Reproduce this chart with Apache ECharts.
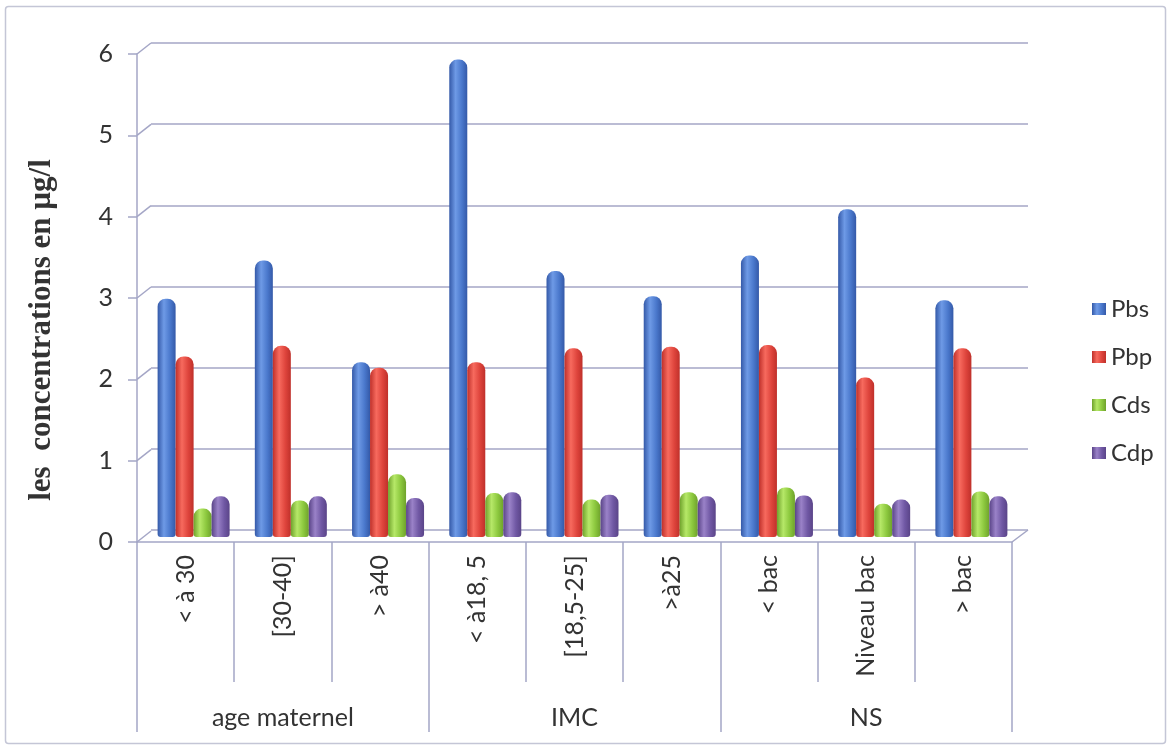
<!DOCTYPE html>
<html>
<head>
<meta charset="utf-8">
<script src="https://cdn.jsdelivr.net/npm/echarts@6/dist/echarts.min.js"></script>
<style>
  html, body { margin: 0; padding: 0; background: #ffffff; }
  #chart { width: 1172px; height: 749px; }
</style>
</head>
<body>
<div id="chart"></div>
<script>
// Sous-groupes (niveau 1) et groupes (niveau 2) de l'axe des catégories
const categories = ['< à 30', '[30-40]', '> à40', '< à18, 5', '[18,5-25]', '>à25', '< bac', 'Niveau bac', '> bac'];
const groups = ['age maternel', 'IMC', 'NS'];
const yTicks = [0, 1, 2, 3, 4, 5, 6];

// Concentrations (µg/l)
const Pbs = [2.93, 3.40, 2.15, 5.87, 3.27, 2.96, 3.46, 4.03, 2.91];
const Pbp = [2.22, 2.35, 2.08, 2.15, 2.32, 2.34, 2.36, 1.96, 2.32];
const Cds = [0.35, 0.45, 0.77, 0.54, 0.46, 0.55, 0.61, 0.41, 0.56];
const Cdp = [0.50, 0.50, 0.48, 0.55, 0.52, 0.50, 0.51, 0.46, 0.50];

const seriesNames = ['Pbs', 'Pbp', 'Cds', 'Cdp'];
const seriesData = [Pbs, Pbp, Cds, Cdp];

// Cylinder shading: dark edges, light band left of centre
const palette = [
  ['#3459a8', '#6e9ae6', '#4a78cc'],
  ['#bf302a', '#f76a5e', '#de443c'],
  ['#6fa22c', '#b6e868', '#8cc83e'],
  ['#5a4488', '#9a82c8', '#7058a4']
];
function cylinder(c) {
  return new echarts.graphic.LinearGradient(0, 0, 1, 0, [
    { offset: 0, color: c[0] },
    { offset: 0.35, color: c[1] },
    { offset: 0.7, color: c[2] },
    { offset: 1, color: c[0] }
  ]);
}

const gridColor = '#a4a6c6';
const textColor = '#333333';
const labelFont = 'Lato, "Open Sans", sans-serif';
const depth = [14, -11];

const chart = echarts.init(document.getElementById('chart'), null, { renderer: 'canvas' });

const barSeries = seriesNames.map((name, i) => ({
  name: name,
  type: 'bar',
  xAxisIndex: 3,
  yAxisIndex: 2,
  data: seriesData[i],
  barWidth: 18,
  barGap: '0%',
  itemStyle: { color: cylinder(palette[i]), borderRadius: [8, 8, 3, 3] },
  emphasis: { disabled: true },
  z: 5
}));

chart.setOption({
  animation: false,
  graphic: [
    {
      type: 'rect',
      shape: { x: 5.5, y: 6.5, width: 1160, height: 737, r: 3 },
      style: { fill: 'none', stroke: '#c4c6d6', lineWidth: 1.5 },
      silent: true
    }
  ],
  legend: {
    orient: 'vertical',
    left: 1087,
    top: 292,
    itemWidth: 14,
    itemHeight: 12,
    itemGap: 24,
    icon: 'rect',
    data: seriesNames,
    textStyle: { fontFamily: labelFont, fontSize: 24, color: textColor, lineHeight: 24 }
  },
  grid: [
    // front plane: visible axes
    { left: 137, right: 160, top: 54, bottom: 207 },
    // back wall: gridlines
    { left: 151, right: 144, top: 43, bottom: 219 },
    // middle plane: columns
    { left: 145, right: 152, top: 49, bottom: 212 }
  ],
  xAxis: [
    {
      type: 'category', gridIndex: 0, data: categories, position: 'bottom',
      axisLine: { show: true, lineStyle: { color: gridColor, width: 1.5 } },
      axisTick: { show: true, interval: 0, length: 140, lineStyle: { color: gridColor, width: 1.5 } },
      axisLabel: { interval: 0, rotate: 90, margin: 13, fontFamily: labelFont, fontSize: 25, color: textColor }
    },
    {
      type: 'category', gridIndex: 0, data: groups, position: 'bottom',
      axisLine: { show: false },
      axisTick: { show: true, interval: 0, length: 190, lineStyle: { color: gridColor, width: 1.5 } },
      axisLabel: { interval: 0, margin: 163, fontFamily: labelFont, fontSize: 25, color: textColor }
    },
    { type: 'category', gridIndex: 1, data: categories, show: false },
    { type: 'category', gridIndex: 2, data: categories, show: false }
  ],
  yAxis: [
    {
      type: 'value', gridIndex: 0, min: 0, max: 6, interval: 1,
      axisLine: { show: true, lineStyle: { color: gridColor, width: 1.5 } },
      axisTick: { show: true, length: 9, lineStyle: { color: gridColor, width: 1.5 } },
      splitLine: { show: false },
      axisLabel: { margin: 24, fontFamily: labelFont, fontSize: 25, color: textColor },
      name: 'les  concentrations en µg/l',
      nameLocation: 'middle',
      nameGap: 80,
      nameRotate: 90,
      nameTextStyle: {
        fontFamily: '"Liberation Serif", "Times New Roman", serif',
        fontWeight: 'bold', fontSize: 31, color: '#333333',
        padding: [0, 64, 0, 0]
      }
    },
    {
      type: 'value', gridIndex: 1, min: 0, max: 6, interval: 1,
      axisLine: { show: false }, axisTick: { show: false }, axisLabel: { show: false },
      splitLine: { show: true, lineStyle: { color: gridColor, width: 1.5 } }
    },
    {
      type: 'value', gridIndex: 2, min: 0, max: 6, interval: 1, show: false,
      splitLine: { show: false }
    }
  ],
  series: [
    // depth connectors from the front axis ticks to the back wall, plus the floor's right edge
    {
      type: 'custom',
      xAxisIndex: 0,
      yAxisIndex: 0,
      silent: true,
      z: 1,
      data: yTicks.map(v => [0, v]),
      renderItem: function (params, api) {
        const cs = params.coordSys;
        const y = api.coord([0, api.value(1)])[1];
        const style = { stroke: gridColor, lineWidth: 1.5 };
        const children = [{
          type: 'line',
          shape: { x1: cs.x, y1: y, x2: cs.x + depth[0], y2: y + depth[1] },
          style: style
        }];
        if (api.value(1) === 0) {
          children.push({
            type: 'line',
            shape: { x1: cs.x + cs.width, y1: y, x2: cs.x + cs.width + depth[0] + 2, y2: y + depth[1] - 1 },
            style: style
          });
        }
        return { type: 'group', children: children };
      }
    }
  ].concat(barSeries)
});
</script>
</body>
</html>
